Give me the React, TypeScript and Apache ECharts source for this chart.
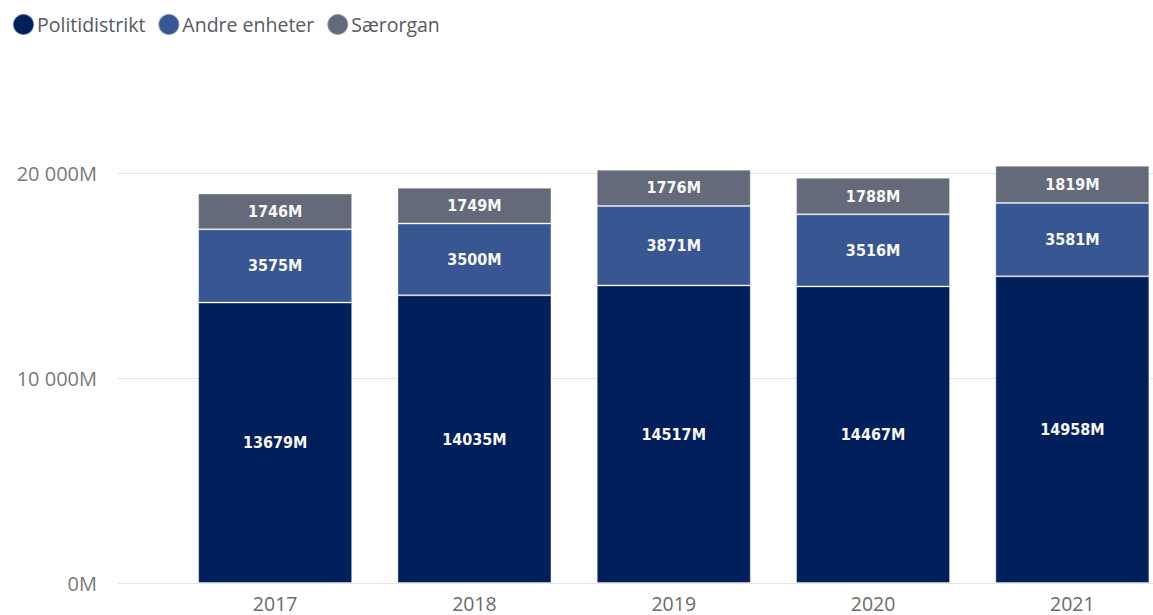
import React, { useEffect, useRef } from "react";
import * as echarts from "echarts";

const years = ["2017", "2018", "2019", "2020", "2021"];
const politidistrikt = [13679, 14035, 14517, 14467, 14958];
const andreEnheter = [3575, 3500, 3871, 3516, 3581];
const saerorgan = [1746, 1749, 1776, 1788, 1819];
const yTicks = [0, 10000, 20000];

const fmtAxis = (v: number) => {
  if (v === 0) return "0M";
  const s = String(v);
  return s.replace(/\B(?=(\d{3})+(?!\d))/g, " ") + "M";
};

const CHART_W = 1200;

export default function App() {
  const ref = useRef<HTMLDivElement>(null);
  useEffect(() => {
    if (!ref.current) return;
    const chart = echarts.init(ref.current, undefined, { renderer: "svg" });
    const label = {
      show: true,
      position: "inside" as const,
      color: "#f8f8f8",
      fontFamily: "DejaVu Sans Condensed",
      fontWeight: "bold" as const,
      fontSize: 16,
      formatter: (p: any) => `${p.value}M`,
    };
    const mk = (name: string, data: number[], color: string) => ({
      name,
      type: "bar",
      stack: "total",
      xAxisIndex: 1,
      yAxisIndex: 1,
      barWidth: 154,
      data,
      label,
      itemStyle: { color, borderColor: "rgba(255,255,255,0.35)", borderWidth: 1 },
    });
    // scale: 410px per 20000 -> top grid for bars extends above the 20 000 line
    const top = 50;
    const pxPerUnit = 410 / 20000;
    const barMax = (583 - top) / pxPerUnit;
    chart.setOption({
      animation: false,
      textStyle: { fontFamily: "Open Sans" },
      legend: {
        left: 7,
        top: 8,
        icon: "circle",
        itemWidth: 21,
        itemHeight: 21,
        itemGap: 12,
        textStyle: { color: "#555a60", fontSize: 19.5, fontFamily: "Open Sans", padding: [0, 0, 0, -2] },
        data: ["Politidistrikt", "Andre enheter", "Særorgan"],
      },
      grid: [
        { left: 118, right: CHART_W - 1153, top: 173, height: 410 },
        { left: 175.5, width: 996.5, top: top, height: 583 - top },
      ],
      xAxis: [
        { type: "value", gridIndex: 0, show: false, min: 0, max: 1 },
        {
          type: "category",
          gridIndex: 1,
          data: years,
          axisLine: { show: false },
          axisTick: { show: false },
          axisLabel: { color: "#6b6b6b", fontSize: 19.5, margin: 10, fontFamily: "Open Sans" },
        },
      ],
      yAxis: [
        {
          type: "value",
          gridIndex: 0,
          min: yTicks[0],
          max: yTicks[yTicks.length - 1],
          interval: yTicks[1] - yTicks[0],
          axisLine: { show: false },
          axisTick: { show: false },
          axisLabel: { color: "#7a7a7a", fontSize: 20, margin: 21, formatter: fmtAxis, fontFamily: "Open Sans" },
          splitLine: { lineStyle: { color: "#e6e6e6", width: 1 } },
        },
        {
          type: "value",
          gridIndex: 1,
          min: 0,
          max: barMax,
          show: false,
        },
      ],
      series: [
        mk("Politidistrikt", politidistrikt, "#011f5b"),
        mk("Andre enheter", andreEnheter, "#385692"),
        mk("Særorgan", saerorgan, "#646a79"),
      ],
    });
    return () => chart.dispose();
  }, []);
  return (
    <div style={{ position: "absolute", left: 0, top: 0, width: 1153, height: 615, overflow: "hidden", background: "#fff" }}>
      <div ref={ref} style={{ width: CHART_W, height: 615 }} />
    </div>
  );
}
